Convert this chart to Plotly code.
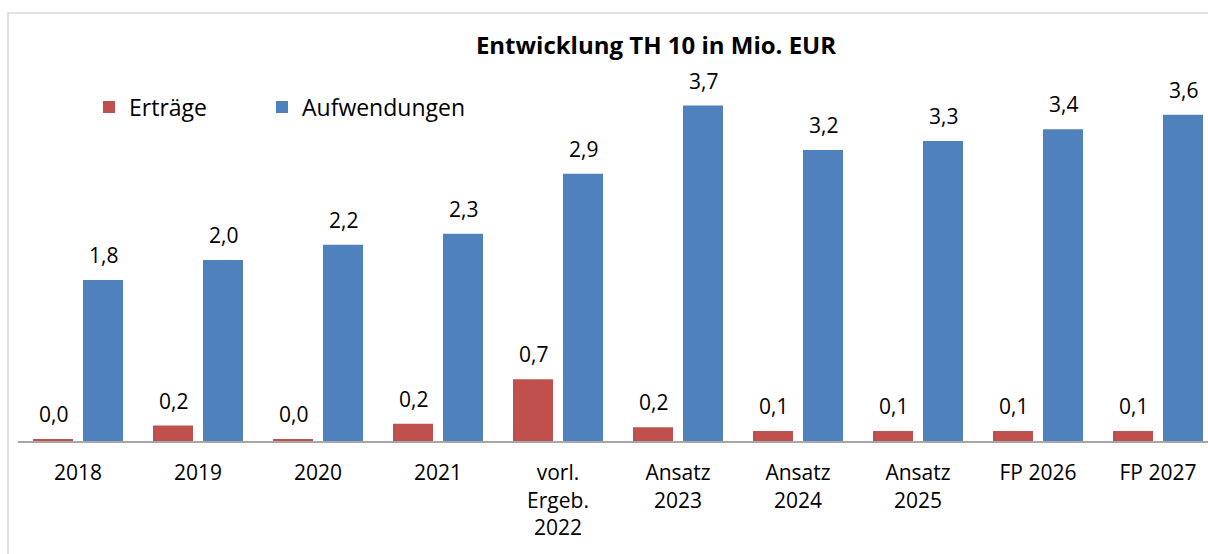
import plotly.graph_objects as go

categories = ["2018", "2019", "2020", "2021", "vorl.<br>Ergeb.<br>2022",
              "Ansatz<br>2023", "Ansatz<br>2024", "Ansatz<br>2025", "FP 2026", "FP 2027"]
ertraege = [0.02, 0.17, 0.02, 0.19, 0.68, 0.151, 0.11, 0.11, 0.11, 0.11]
aufwendungen = [1.77, 1.99, 2.16, 2.28, 2.94, 3.69, 3.20, 3.30, 3.43, 3.59]
series_names = ["Erträge", "Aufwendungen"]
colors = ["#C0504D", "#4F81BD"]
title_text = "Entwicklung TH 10 in Mio. EUR"

FONT = "Open Sans"

def de(v):
    return f"{v:.1f}".replace(".", ",")

W, H = 1208, 554
ML, MR, MT, MB = 18, 0, 60, 113
plot_w = W - ML - MR
plot_h = H - MT - MB
px_per_cat = 120.0
px_per_unit = 90.9

def px_x(p):
    return (p - ML) / plot_w

def px_y(p):
    return (H - MB - p) / plot_h

fig = go.Figure()
legend_ids = ["legend", "legend2"]
for name, vals, col, lg in zip(series_names, [ertraege, aufwendungen], colors, legend_ids):
    fig.add_trace(go.Bar(
        x=categories, y=vals, name=name, legend=lg,
        marker=dict(color=col, line=dict(width=0)),
        hoverinfo="skip",
    ))

annotations = []
for vals, shift in ((ertraege, -25), (aufwendungen, 25)):
    for i, v in enumerate(vals):
        annotations.append(dict(
            x=i, y=v, xref="x", yref="y", text=de(v), showarrow=False,
            xshift=shift, yshift=9, yanchor="bottom", xanchor="center",
            font=dict(family=FONT, size=21, color="#000000"),
        ))

legend_common = dict(orientation="h", xref="paper", yref="paper",
                     xanchor="left", yanchor="middle",
                     font=dict(family=FONT, size=23, color="#000000"),
                     bgcolor="rgba(0,0,0,0)")

fig.update_layout(
    width=W, height=H,
    margin=dict(l=ML, r=MR, t=MT, b=MB, pad=0, autoexpand=False),
    paper_bgcolor="white", plot_bgcolor="white",
    barmode="group", bargap=20 / 120, bargroupgap=0.2,
    font=dict(family=FONT, size=21, color="#000000"),
    title=dict(text="<b>" + title_text + "</b>", x=656 / W, xanchor="center",
               y=1 - 46 / H, yanchor="middle",
               font=dict(family=FONT, size=24, color="#000000")),
    showlegend=True,
    legend=dict(x=px_x(89), y=px_y(107), **legend_common),
    legend2=dict(x=px_x(262), y=px_y(107), **legend_common),
    xaxis=dict(type="category", range=[-0.5, -0.5 + plot_w / px_per_cat], showgrid=False,
               showline=True, linecolor="#A6A6A6", linewidth=2,
               ticks="", ticklabelstandoff=12, zeroline=False,
               tickfont=dict(family=FONT, size=21, color="#000000"),
               fixedrange=True),
    yaxis=dict(range=[0, plot_h / px_per_unit], visible=False, showgrid=False,
               zeroline=False, fixedrange=True),
    annotations=annotations,
    shapes=[dict(type="rect", xref="paper", yref="paper",
                 x0=px_x(8), x1=px_x(1400), y0=px_y(800), y1=px_y(13),
                 line=dict(color="#D9D9D9", width=1.5), fillcolor="rgba(0,0,0,0)",
                 layer="below")],
)

fig.write_html("out.html", config={"displayModeBar": False},
               post_script="document.body.style.margin='0px';document.body.style.overflow='hidden';")
